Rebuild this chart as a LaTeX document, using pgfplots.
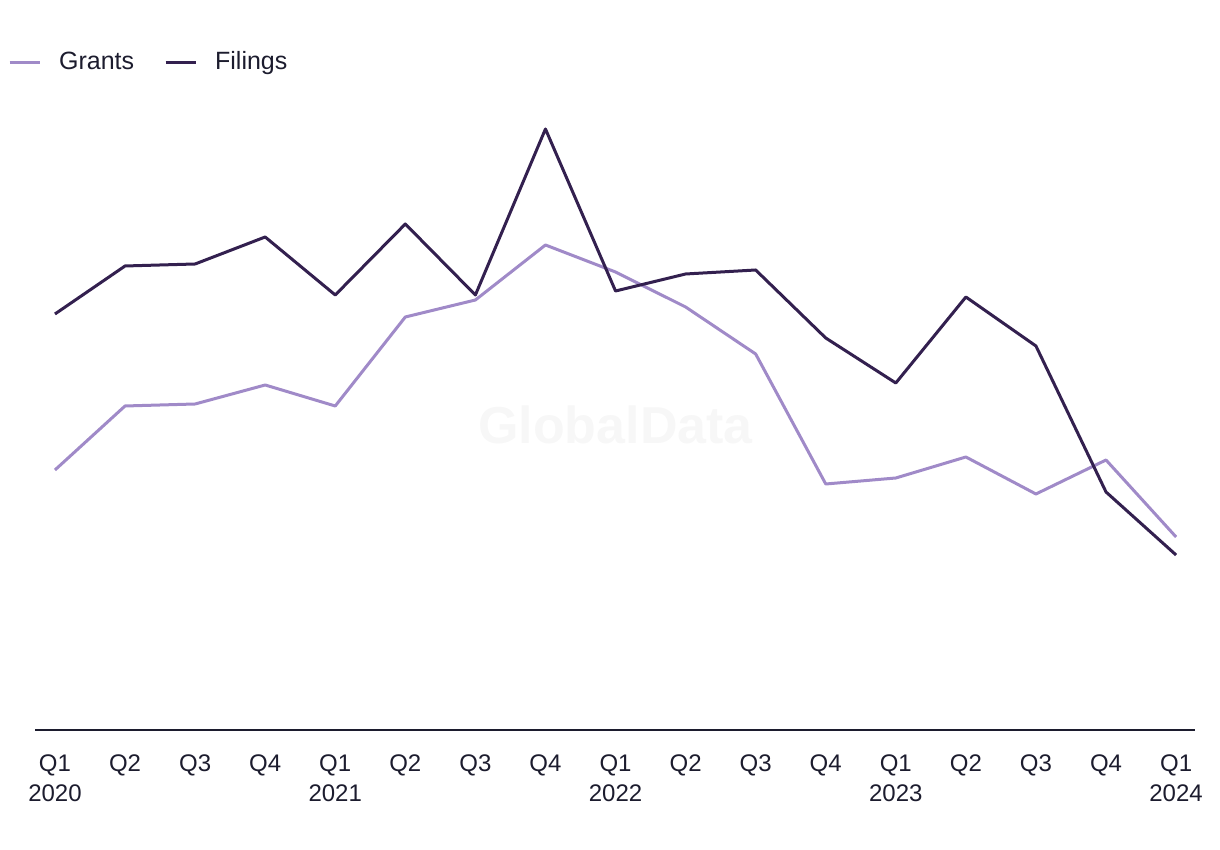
\documentclass[border=0pt]{standalone}
\usepackage{pgfplots}
\pgfplotsset{compat=1.18}
\usepackage{fontspec}
\setmainfont{Liberation Sans}
\definecolor{grantc}{HTML}{A08AC8}
\definecolor{filec}{HTML}{33204F}
\definecolor{txt}{HTML}{1C1C2E}
\begin{document}
\begin{tikzpicture}
\useasboundingbox (-17.5pt,-60pt) rectangle (592.5pt,365pt);
\begin{axis}[
  at={(0,0)}, anchor=south west,
  scale only axis, width=580pt, height=315pt,
  xmin=-0.285, xmax=16.27, ymin=0, ymax=630,
  axis x line*=bottom, axis y line=none,
  x axis line style={-, line width=0.9pt, color=txt},
  xtick={0,...,16}, major tick length=0pt,
  xticklabels={{Q1\\2020},Q2,Q3,Q4,{Q1\\2021},Q2,Q3,Q4,{Q1\\2022},Q2,Q3,Q4,{Q1\\2023},Q2,Q3,Q4,{Q1\\2024}},
  xticklabel style={align=center, font=\fontsize{12}{15}\selectfont, text=txt, anchor=north, yshift=-9pt},
  ytick=\empty,
  legend columns=2,
  legend style={at={(-0.0235,1.060)}, anchor=west, draw=none, fill=none, inner sep=0pt,
    font=\fontsize{12.5}{15}\selectfont, text=txt,
    /tikz/every odd column/.append style={column sep=7pt},
    /tikz/every even column/.append style={column sep=13pt}},
  legend cell align=left,
  legend image code/.code={\draw[#1, line width=1.5pt] (0pt,0pt) -- (15pt,0pt);},
  clip=false,
]
\node[font=\bfseries\fontsize{26}{30}\selectfont, text=black!3] at (axis cs:8,305) {GlobalData};
\addplot[color=grantc, line width=1.5pt, line join=round] coordinates {
(0,260) (1,324) (2,326) (3,345) (4,324) (5,413) (6,430) (7,485) (8,458) (9,423) (10,376) (11,246) (12,252) (13,273) (14,236) (15,270) (16,193)};
\addlegendentry{Grants}
\addplot[color=filec, line width=1.5pt, line join=round] coordinates {
(0,416) (1,464) (2,466) (3,493) (4,435) (5,506) (6,435) (7,601) (8,439) (9,456) (10,460) (11,392) (12,347) (13,433) (14,384) (15,238) (16,175)};
\addlegendentry{Filings}
\end{axis}
\end{tikzpicture}
\end{document}
